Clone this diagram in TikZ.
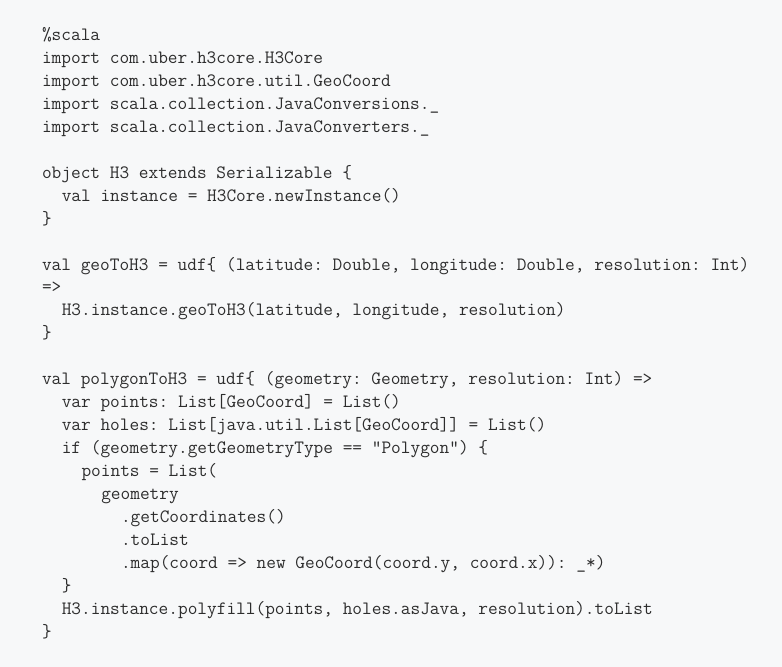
\documentclass[tikz,border=0pt]{standalone}
\usepackage{fontspec}
\setmonofont{Latin Modern Mono}
\usetikzlibrary{positioning}

\definecolor{pagegray}{RGB}{247,248,249}
\definecolor{codegray}{RGB}{45,45,45}

\begin{document}
\frenchspacing
\begin{tikzpicture}[x=0.75pt,y=-0.75pt,
    code/.style={anchor=base west,inner sep=0pt,outer sep=0pt,text=codegray,
        font=\ttfamily\fontsize{14.11pt}{17pt}\selectfont}]
    \fill [pagegray] (0,0) rectangle (782,667);
    \useasboundingbox (0,0) rectangle (782,667);
    % imports
    \node [code] (magic) at (42,40.5) {\%scala};
    \node [code] (impcore) at (42,63.45) {import com.uber.h3core.H3Core};
    \node [code] (impcoord) at (42,86.4) {import com.uber.h3core.util.GeoCoord};
    \node [code] (impconv) at (42,109.35) {import scala.collection.JavaConversions.\_};
    \node [code] (impconverters) at (42,132.3) {import scala.collection.JavaConverters.\_};
    % object H3
    \node [code] (objhead) at (42,178.2) {object H3 extends Serializable \{};
    \node [code] (objval) at (61.8,201.15) {val instance = H3Core.newInstance()};
    \node [code] (objend) at (42,224.1) {\}};
    % geoToH3
    \node [code] (geohead) at (42,270) {val geoToH3 = udf\{ (latitude: Double, longitude: Double, resolution: Int)};
    \node [code] (geoarrow) at (42,292.95) {=>};
    \node [code] (geocall) at (61.8,315.9) {H3.instance.geoToH3(latitude, longitude, resolution)};
    \node [code] (geoend) at (42,338.85) {\}};
    % polygonToH3
    \node [code] (polyhead) at (42,384.75) {val polygonToH3 = udf\{ (geometry: Geometry, resolution: Int) =>};
    \node [code] (polypts) at (61.8,407.7) {var points: List[GeoCoord] = List()};
    \node [code] (polyholes) at (61.8,430.65) {var holes: List[java.util.List[GeoCoord]] = List()};
    \node [code] (polyif) at (61.8,453.6) {if (geometry.getGeometryType == “Polygon”) \{};
    \node [code] (polyassign) at (81.5,476.55) {points = List(};
    \node [code] (polygeom) at (101.3,499.5) {geometry};
    \node [code] (polycoords) at (121,522.45) {.getCoordinates()};
    \node [code] (polylist) at (121,545.4) {.toList};
    \node [code] (polymap) at (121,568.35) {.map(coord => new GeoCoord(coord.y, coord.x)): \_*)};
    \node [code] (polyifend) at (61.8,591.3) {\}};
    \node [code] (polyfill) at (61.8,614.25) {H3.instance.polyfill(points, holes.asJava, resolution).toList};
    \node [code] (polyend) at (42,637.2) {\}};
\end{tikzpicture}
\end{document}
